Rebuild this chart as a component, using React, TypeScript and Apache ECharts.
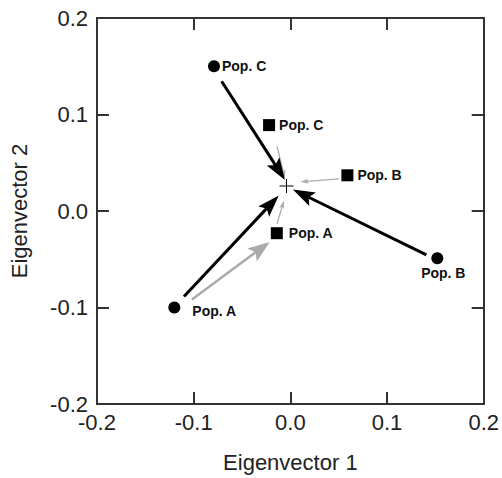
import React, { useEffect, useRef } from "react";
import * as echarts from "echarts";

const popNames = ["Pop. A", "Pop. B", "Pop. C"];
const circleX = [-0.12, 0.152, -0.079];
const circleY = [-0.1, -0.049, 0.15];
const squareX = [-0.014, 0.059, -0.022];
const squareY = [-0.023, 0.037, 0.089];
const centerPoint = [-0.004, 0.026];

// arrows: [x1, y1, x2, y2]
const blackArrows = [
  [-0.11, -0.0885, -0.012, 0.016],
  [0.1407, -0.0455, 0.0026, 0.0223],
  [-0.0711, 0.1345, -0.0056, 0.0322],
];
const grayThickArrows = [[-0.1018, -0.0916, -0.0213, -0.032]];
const grayThinArrows = [
  [-0.0138, -0.0135, -0.0067, 0.0107],
  [0.0506, 0.0333, 0.0104, 0.0302],
  [-0.0138, 0.067, -0.0056, 0.0343],
];

const xTicks = [-0.2, -0.1, 0.0, 0.1, 0.2];
const yTicks = [-0.2, -0.1, 0.0, 0.1, 0.2];

const FONT = "'Liberation Sans', Arial, Helvetica, sans-serif";

function arrowRenderer(color: string, lw: number, headLen: number, headW: number) {
  return (params: any, api: any) => {
    const s = api.coord([api.value(0), api.value(1)]);
    const e = api.coord([api.value(2), api.value(3)]);
    const dx = e[0] - s[0];
    const dy = e[1] - s[1];
    const len = Math.hypot(dx, dy) || 1;
    const ux = dx / len;
    const uy = dy / len;
    const px = -uy;
    const py = ux;
    const bx = e[0] - ux * headLen;
    const by = e[1] - uy * headLen;
    const nx = e[0] - ux * headLen * 0.8;
    const ny = e[1] - uy * headLen * 0.8;
    const hw = headW / 2;
    return {
      type: "group",
      children: [
        {
          type: "line",
          shape: { x1: s[0], y1: s[1], x2: nx, y2: ny },
          style: { stroke: color, lineWidth: lw },
        },
        {
          type: "polygon",
          shape: {
            points: [
              [e[0], e[1]],
              [bx + px * hw, by + py * hw],
              [nx, ny],
              [bx - px * hw, by - py * hw],
            ],
          },
          style: { fill: color },
        },
      ],
    };
  };
}

const circleLabelStyles = [
  { position: "right", distance: 12, offset: [0, 3] },
  { position: "bottom", distance: 2, offset: [6, 0] },
  { position: "right", distance: 2, offset: [0, 0] },
];
const squareLabelStyles = [
  { position: "right", distance: 6, offset: [0, 0] },
  { position: "right", distance: 4, offset: [0, 0] },
  { position: "right", distance: 4, offset: [0, 0] },
];

export default function App() {
  const ref = useRef<HTMLDivElement>(null);
  useEffect(() => {
    if (!ref.current) return;
    const chart = echarts.init(ref.current, undefined, { renderer: "svg" });
    const axisLine = { show: true, onZero: false, lineStyle: { color: "#333", width: 2 } };
    const axisTick = { show: true, inside: true, length: 12, lineStyle: { color: "#333", width: 2 } };
    const labelText = {
      show: true,
      color: "#111",
      fontFamily: FONT,
      fontWeight: "bold",
      fontSize: 14,
      formatter: (p: any) => p.name,
    };
    chart.setOption({
      animation: false,
      backgroundColor: "#fff",
      grid: { left: 97, right: 14, top: 18, bottom: 69, containLabel: false },
      xAxis: [
        {
          type: "value",
          min: xTicks[0],
          max: xTicks[xTicks.length - 1],
          interval: 0.1,
          position: "bottom",
          name: "Eigenvector 1",
          nameLocation: "middle",
          nameGap: 47,
          nameTextStyle: { fontFamily: FONT, fontSize: 22, color: "#222" },
          axisLine,
          axisTick,
          axisLabel: {
            fontFamily: FONT,
            fontSize: 22,
            color: "#222",
            margin: 7,
            formatter: (v: number) => v.toFixed(1),
          },
          splitLine: { show: false },
        },
        {
          type: "value",
          min: xTicks[0],
          max: xTicks[xTicks.length - 1],
          interval: 0.1,
          position: "top",
          axisLine,
          axisTick,
          axisLabel: { show: false },
          splitLine: { show: false },
        },
      ],
      yAxis: [
        {
          type: "value",
          min: yTicks[0],
          max: yTicks[yTicks.length - 1],
          interval: 0.1,
          position: "left",
          name: "Eigenvector 2",
          nameLocation: "middle",
          nameGap: 67,
          nameTextStyle: { fontFamily: FONT, fontSize: 22, color: "#222" },
          axisLine,
          axisTick,
          axisLabel: {
            fontFamily: FONT,
            fontSize: 22,
            color: "#222",
            margin: 9,
            formatter: (v: number) => v.toFixed(1),
          },
          splitLine: { show: false },
        },
        {
          type: "value",
          min: yTicks[0],
          max: yTicks[yTicks.length - 1],
          interval: 0.1,
          position: "right",
          axisLine,
          axisTick,
          axisLabel: { show: false },
          splitLine: { show: false },
        },
      ],
      series: [
        {
          type: "custom",
          renderItem: arrowRenderer("#aaaaaa", 2.5, 22, 16),
          data: grayThickArrows,
          encode: { x: [0, 2], y: [1, 3] },
          z: 2,
        },
        {
          type: "custom",
          renderItem: arrowRenderer("#aaaaaa", 1.2, 8, 5),
          data: grayThinArrows,
          encode: { x: [0, 2], y: [1, 3] },
          z: 2,
        },
        {
          type: "custom",
          renderItem: arrowRenderer("#000000", 3, 22, 15),
          data: blackArrows,
          encode: { x: [0, 2], y: [1, 3] },
          z: 3,
        },
        {
          type: "scatter",
          symbol: "circle",
          symbolSize: 12,
          itemStyle: { color: "#000", opacity: 1 },
          data: popNames.map((n, i) => ({
            name: n,
            value: [circleX[i], circleY[i]],
            label: { ...labelText, ...circleLabelStyles[i] },
          })),
          z: 4,
        },
        {
          type: "scatter",
          symbol: "rect",
          symbolSize: 12,
          itemStyle: { color: "#000", opacity: 1 },
          data: popNames.map((n, i) => ({
            name: n,
            value: [squareX[i], squareY[i]],
            label: { ...labelText, ...squareLabelStyles[i] },
          })),
          z: 4,
        },
        {
          type: "scatter",
          symbol: "path://M0,6.5H14V7.5H0Z M6.5,0H7.5V14H6.5Z",
          symbolSize: 14,
          itemStyle: { color: "#000", opacity: 1 },
          data: [centerPoint],
          z: 5,
        },
      ],
    });
    return () => chart.dispose();
  }, []);
  return <div ref={ref} style={{ width: 502, height: 478, position: "absolute", left: 0, top: 0 }} />;
}
